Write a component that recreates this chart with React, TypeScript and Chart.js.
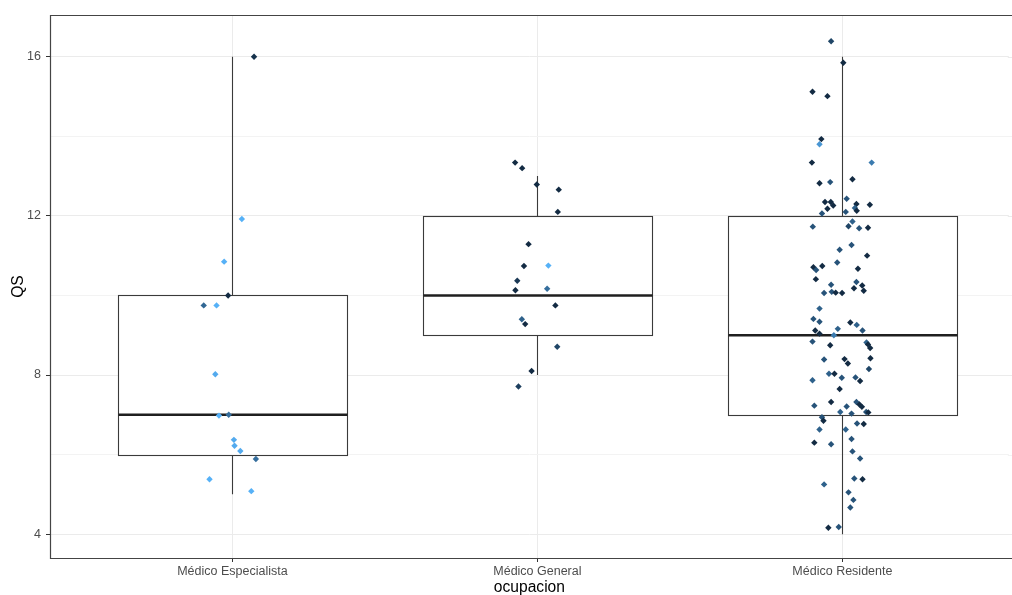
import React, { useEffect, useRef } from "react";
import { Chart, registerables } from "chart.js";

Chart.register(...registerables);

// ---------- data ----------
const categories = ["Médico Especialista", "Médico General", "Médico Residente"];
const yTickValues = [4, 6, 8, 10, 12, 14, 16];

const boxWhiskerLow = [5, 8, 4];
const boxQ1 = [6, 9, 7];
const boxMedian = [7, 10, 9];
const boxQ3 = [10, 12, 12];
const boxWhiskerHigh = [16, 13, 16];

// jittered observations: QS value, horizontal jitter (category units), colour level (0 dark .. 1 light)
const especialistaQS = [16, 11.92, 10.85, 10.0, 9.75, 9.75, 8.02, 6.98, 7.0, 6.37, 6.22, 6.09, 5.89, 5.38, 5.08];
const especialistaJitter = [0.071, 0.031, -0.027, -0.014, -0.094, -0.052, -0.056, -0.044, -0.012, 0.005, 0.007, 0.026, 0.077, -0.075, 0.062];
const especialistaLevel = [0.05, 1, 1, 0, 0.45, 1, 0.95, 1, 0.5, 0.95, 0.95, 0.95, 0.5, 1, 1];

const generalQS = [13.34, 13.2, 12.79, 12.66, 12.1, 11.29, 10.74, 10.75, 10.37, 10.13, 10.17, 9.75, 9.4, 9.28, 8.71, 8.1, 7.71];
const generalJitter = [-0.073, -0.05, -0.002, 0.07, 0.067, -0.029, -0.044, 0.036, -0.066, -0.072, 0.032, 0.059, -0.051, -0.04, 0.065, -0.019, -0.062];
const generalLevel = [0, 0, 0, 0, 0, 0, 0, 1, 0.1, 0, 0.5, 0, 0.4, 0, 0.2, 0, 0.15];

const residenteQS = [
  16.39, 15.85, 15.12, 15.01, 13.93, 13.8, 13.34, 13.34, 12.82, 12.85,
  12.92, 12.35, 12.35, 12.26, 12.18, 12.06, 12.43, 12.3, 12.2, 12.13,
  12.28, 12.1, 11.73, 11.86, 11.74, 11.69, 11.7, 11.15, 11.27, 11.0,
  10.71, 10.64, 10.74, 10.83, 10.67, 10.41, 10.27, 10.34, 10.25, 10.06,
  10.09, 10.07, 10.06, 10.18, 10.12, 9.67, 9.41, 9.34, 9.32, 9.26,
  9.16, 9.12, 9.12, 9.04, 9.0, 8.84, 8.75, 8.82, 8.77, 8.68,
  8.39, 8.4, 8.29, 8.42, 8.15, 8.03, 8.03, 7.93, 7.94, 7.85,
  7.87, 7.65, 7.23, 7.32, 7.21, 7.32, 7.26, 7.2, 7.07, 7.06,
  7.07, 7.03, 6.94, 6.85, 6.78, 6.77, 6.63, 6.63, 6.3, 6.26,
  6.39, 6.08, 5.9, 5.4, 5.38, 5.25, 5.05, 4.86, 4.67, 4.16,
  4.18,
];
const residenteJitter = [
  -0.037, 0.003, -0.098, -0.049, -0.069, -0.075, -0.1, 0.096, -0.075, -0.04,
  0.033, -0.057, -0.038, -0.03, -0.049, -0.067, 0.014, 0.046, 0.041, 0.047,
  0.09, 0.011, -0.097, 0.033, 0.02, 0.055, 0.084, -0.009, 0.03, 0.081,
  -0.095, -0.086, -0.066, -0.017, 0.051, -0.087, -0.037, 0.046, 0.065, -0.06,
  -0.035, -0.022, -0.001, 0.038, 0.07, -0.075, -0.095, -0.075, 0.026, 0.047,
  -0.015, 0.066, -0.089, -0.075, -0.028, -0.098, -0.04, 0.079, 0.084, 0.091,
  -0.06, 0.007, 0.018, 0.092, 0.087, -0.044, -0.026, -0.002, 0.043, 0.058,
  -0.098, -0.009, -0.092, -0.037, 0.014, 0.046, 0.056, 0.064, 0.078, 0.085,
  -0.007, 0.03, -0.067, -0.062, 0.048, 0.07, -0.075, 0.011, -0.092, -0.037,
  0.03, 0.033, 0.058, 0.039, 0.066, -0.06, 0.02, 0.036, 0.026, -0.046,
  -0.012,
];
const residenteLevel = [
  0.2, 0, 0, 0, 0, 0.8, 0, 0.6, 0, 0.3,
  0, 0, 0, 0, 0, 0.3, 0.3, 0, 0.4, 0,
  0, 0.3, 0.3, 0.4, 0.2, 0.3, 0, 0.3, 0.3, 0,
  0, 0.3, 0, 0.3, 0, 0, 0.3, 0.3, 0, 0.3,
  0.3, 0, 0, 0, 0, 0.4, 0.3, 0.3, 0, 0.4,
  0.4, 0.3, 0, 0, 0.6, 0.3, 0, 0.4, 0, 0,
  0.3, 0, 0, 0, 0.2, 0.4, 0, 0.3, 0.3, 0,
  0.4, 0, 0.3, 0, 0.3, 0.3, 0, 0, 0.3, 0,
  0.4, 0.3, 0.3, 0, 0.3, 0, 0.4, 0.4, 0, 0.3,
  0.3, 0.3, 0.3, 0.3, 0, 0.4, 0.3, 0.3, 0.3, 0,
  0.3,
];

const groupQS = [especialistaQS, generalQS, residenteQS];
const groupJitter = [especialistaJitter, generalJitter, residenteJitter];
const groupLevel = [especialistaLevel, generalLevel, residenteLevel];

// ---------- styling helpers ----------
const LOW = [19, 43, 67]; // #132B43
const HIGH = [86, 177, 247]; // #56B1F7
function levelColor(t: number): string {
  const c = LOW.map((l, k) => Math.round(l + (HIGH[k] - l) * t));
  return `rgb(${c[0]},${c[1]},${c[2]})`;
}
const isMajor = (v: number) => v % 4 === 0;
const gridColorFor = (v: number) => (isMajor(v) ? "#ebebeb" : "#f3f3f3");

const FONT = '"Liberation Sans", Arial, Helvetica, sans-serif';
const BOX_HALF = 0.375;

const boxPlugin = {
  id: "boxes",
  beforeDatasetsDraw(chart: any) {
    const { ctx, scales, chartArea } = chart;
    const xs = scales.x;
    const ys = scales.y;
    ctx.save();
    // panel continues past the right edge of the picture: extend the horizontal grid
    ctx.lineWidth = 1;
    for (const v of yTickValues) {
      const py = Math.round(ys.getPixelForValue(v)) + 0.5;
      ctx.strokeStyle = gridColorFor(v);
      ctx.beginPath();
      ctx.moveTo(chartArea.right - 1, py);
      ctx.lineTo(chart.width + 2, py);
      ctx.stroke();
    }
    for (let i = 0; i < categories.length; i++) {
      const cx = Math.round(xs.getPixelForValue(i)) + 0.5;
      const l = Math.round(xs.getPixelForValue(i - BOX_HALF)) + 0.5;
      const r = Math.round(xs.getPixelForValue(i + BOX_HALF)) + 0.5;
      const yLo = ys.getPixelForValue(boxWhiskerLow[i]);
      const yQ1 = Math.round(ys.getPixelForValue(boxQ1[i])) + 0.5;
      const yMed = ys.getPixelForValue(boxMedian[i]);
      const yQ3 = Math.round(ys.getPixelForValue(boxQ3[i])) + 0.5;
      const yHi = ys.getPixelForValue(boxWhiskerHigh[i]);
      ctx.strokeStyle = "#3a3a3a";
      ctx.lineWidth = 1.1;
      ctx.beginPath();
      ctx.moveTo(cx, yHi);
      ctx.lineTo(cx, yQ3);
      ctx.moveTo(cx, yQ1);
      ctx.lineTo(cx, yLo);
      ctx.stroke();
      ctx.fillStyle = "#ffffff";
      ctx.fillRect(l, yQ3, r - l, yQ1 - yQ3);
      ctx.strokeRect(l, yQ3, r - l, yQ1 - yQ3);
      ctx.strokeStyle = "#1f1f1f";
      ctx.lineWidth = 2.6;
      ctx.beginPath();
      ctx.moveTo(l, yMed);
      ctx.lineTo(r, yMed);
      ctx.stroke();
    }
    ctx.restore();
  },
};

const borderPlugin = {
  id: "panelBorder",
  afterDraw(chart: any) {
    const { ctx, chartArea } = chart;
    const l = Math.round(chartArea.left) + 0.5;
    const t = Math.round(chartArea.top) + 0.5;
    const b = Math.round(chartArea.bottom) + 0.5;
    ctx.save();
    ctx.strokeStyle = "#444444";
    ctx.lineWidth = 1.2;
    ctx.beginPath();
    ctx.moveTo(chart.width + 2, t);
    ctx.lineTo(l, t);
    ctx.lineTo(l, b);
    ctx.lineTo(chart.width + 2, b);
    ctx.stroke();
    ctx.restore();
  },
};

export default function App() {
  const canvasRef = useRef<HTMLCanvasElement | null>(null);

  useEffect(() => {
    if (!canvasRef.current) return;
    Chart.defaults.font.family = FONT;

    const datasets = groupQS.map((vals, i) => ({
      label: categories[i],
      data: vals.map((v, j) => ({ x: i + groupJitter[i][j], y: v })),
      pointStyle: "rectRot" as const,
      pointRadius: 3.2,
      pointHoverRadius: 3.2,
      pointBorderWidth: 0,
      pointBackgroundColor: groupLevel[i].map(levelColor),
      pointBorderColor: groupLevel[i].map(levelColor),
      showLine: false,
    }));

    const chart = new Chart(canvasRef.current, {
      type: "scatter",
      data: { datasets },
      options: {
        responsive: false,
        animation: false,
        devicePixelRatio: 1,
        events: [],
        layout: { padding: { top: 15, left: 0, right: 0, bottom: 0 } },
        plugins: { legend: { display: false }, tooltip: { enabled: false } },
        scales: {
          x: {
            type: "linear",
            min: -0.598,
            max: 2.5456,
            afterBuildTicks: (scale: any) => {
              scale.ticks = categories.map((_, i) => ({ value: i }));
            },
            afterFit: (scale: any) => {
              scale.height = 37;
            },
            ticks: {
              autoSkip: false,
              maxRotation: 0,
              padding: 2,
              color: "#4d4d4d",
              font: { size: 12.5, family: FONT },
              callback: (v: any) => categories[Math.round(Number(v))] ?? "",
            },
            grid: {
              color: "#ebebeb",
              lineWidth: 1,
              drawTicks: true,
              tickLength: 4,
              tickColor: "#333333",
            },
            border: { display: false },
            title: {
              display: true,
              text: "ocupacion",
              color: "#000000",
              font: { size: 15.6, family: FONT, lineHeight: 1 },
              padding: { top: 0, bottom: 0 },
            },
          },
          y: {
            type: "linear",
            min: 3.4,
            max: 17.05,
            afterBuildTicks: (scale: any) => {
              scale.ticks = yTickValues.map((v) => ({ value: v }));
            },
            afterFit: (scale: any) => {
              scale.width = 50;
            },
            ticks: {
              autoSkip: false,
              padding: 5,
              color: "#4d4d4d",
              font: { size: 12.5, family: FONT },
              callback: (v: any) => (isMajor(Number(v)) ? String(v) : ""),
            },
            grid: {
              color: (c: any) => (c.tick ? gridColorFor(c.tick.value) : "#ebebeb"),
              lineWidth: 1,
              drawTicks: true,
              tickLength: 4,
              tickColor: (c: any) => (c.tick && isMajor(c.tick.value) ? "#333333" : "rgba(0,0,0,0)"),
            },
            border: { display: false },
            title: {
              display: true,
              text: "QS",
              color: "#000000",
              font: { size: 15.6, family: FONT, lineHeight: 1 },
              padding: { top: 11, bottom: 0 },
            },
          },
        },
      },
      plugins: [boxPlugin, borderPlugin],
    } as any);

    return () => chart.destroy();
  }, []);

  return (
    <div
      style={{
        position: "absolute",
        left: 0,
        top: 0,
        width: 1012,
        height: 595,
        overflow: "hidden",
        background: "#ffffff",
      }}
    >
      <canvas ref={canvasRef} width={1012} height={595} style={{ display: "block" }} />
    </div>
  );
}
